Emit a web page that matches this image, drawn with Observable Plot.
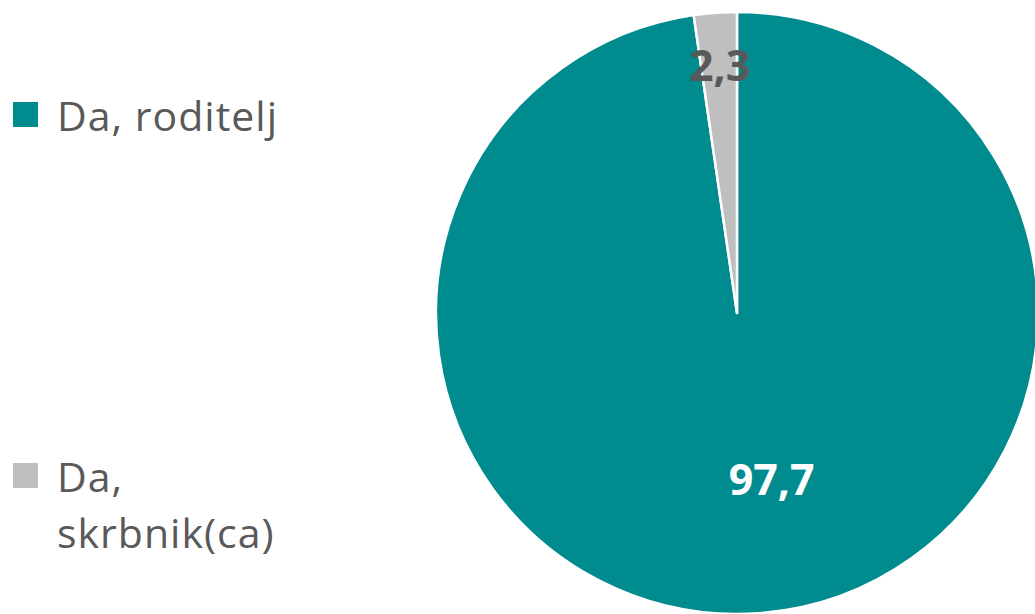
<!DOCTYPE html>
<html>
<head>
<meta charset="utf-8">
<script src="https://cdn.jsdelivr.net/npm/d3@7"></script>
<script src="https://cdn.jsdelivr.net/npm/@observablehq/plot@0.6"></script>
<style>
  html, body { margin: 0; padding: 0; background: #fff; overflow: hidden; }
  #wrap { position: relative; width: 1035px; height: 614px; font-family: "Open Sans", sans-serif; }
  #legend { position: absolute; left: 13px; top: 0; width: 340px; color: #595959; font-size: 41px; letter-spacing: 1px; }
  .item { position: absolute; left: 0; display: flex; align-items: flex-start; }
  .sw { width: 25px; height: 25px; margin-right: 19px; flex: none; }
  .lab { line-height: 56px; }
  #chart { position: absolute; left: 0; top: 0; }
</style>
</head>
<body>
<div id="wrap">
  <div id="chart"></div>
  <div id="legend"></div>
</div>
<script>
const categories = ["Da, roditelj", "Da, skrbnik(ca)"];
const values = [97.7, 2.3];
const labels = ["97,7", "2,3"];
const colors = ["#008B8F", "#BFBFBF"];
const labelColors = ["#ffffff", "#595959"];
const legendLines = [["Da, roditelj"], ["Da,", "skrbnik(ca)"]];

const data = categories.map((c, i) => ({category: c, value: values[i], label: labels[i]}));

const W = 1035, H = 614;
const cx = 737, cy = 313, R = 301;

const pie = d3.pie().value(d => d.value).sort(null);
const arcs = pie(data);
const labelRadius = [0.56, 0.82];
const labelDx = [22, 0];
const labelData = arcs.map((a, i) => {
  const mid = (a.startAngle + a.endAngle) / 2;
  const r = R * labelRadius[i];
  return {
    category: a.data.category,
    label: a.data.label,
    px: cx + Math.sin(mid) * r + labelDx[i],
    py: cy - Math.cos(mid) * r
  };
});

const pieMark = (index, scales, values, dimensions, context) => {
  const g = d3.create("svg:g").attr("transform", `translate(${cx},${cy})`);
  const arc = d3.arc().innerRadius(0).outerRadius(R);
  g.selectAll("path").data(arcs).join("path")
    .attr("d", arc)
    .attr("fill", d => scales.color(d.data.category))
    .attr("stroke", "#fff")
    .attr("stroke-width", 2.5)
    .attr("stroke-linejoin", "round");
  return g.node();
};

const plot = Plot.plot({
  width: W,
  height: H,
  margin: 0,
  x: {domain: [0, W], axis: null},
  y: {domain: [0, H], axis: null, reverse: true},
  color: {domain: categories, range: colors},
  style: {fontFamily: "'Open Sans', sans-serif", background: "#fff"},
  marks: [
    pieMark,
    Plot.text(labelData, {
      x: "px", y: "py", text: "label",
      fill: (d) => labelColors[categories.indexOf(d.category)],
      fontSize: 43, fontWeight: "bold", textAnchor: "middle", lineAnchor: "middle"
    })
  ]
});
document.getElementById("chart").appendChild(plot);

const legend = d3.select("#legend");
const tops = [87, 448];
categories.forEach((c, i) => {
  const item = legend.append("div").attr("class", "item").style("top", tops[i] + "px");
  item.append("div").attr("class", "sw").style("background", colors[i]).style("margin-top", "15px");
  item.append("div").attr("class", "lab").html(legendLines[i].join("<br>"));
});
</script>
</body>
</html>
